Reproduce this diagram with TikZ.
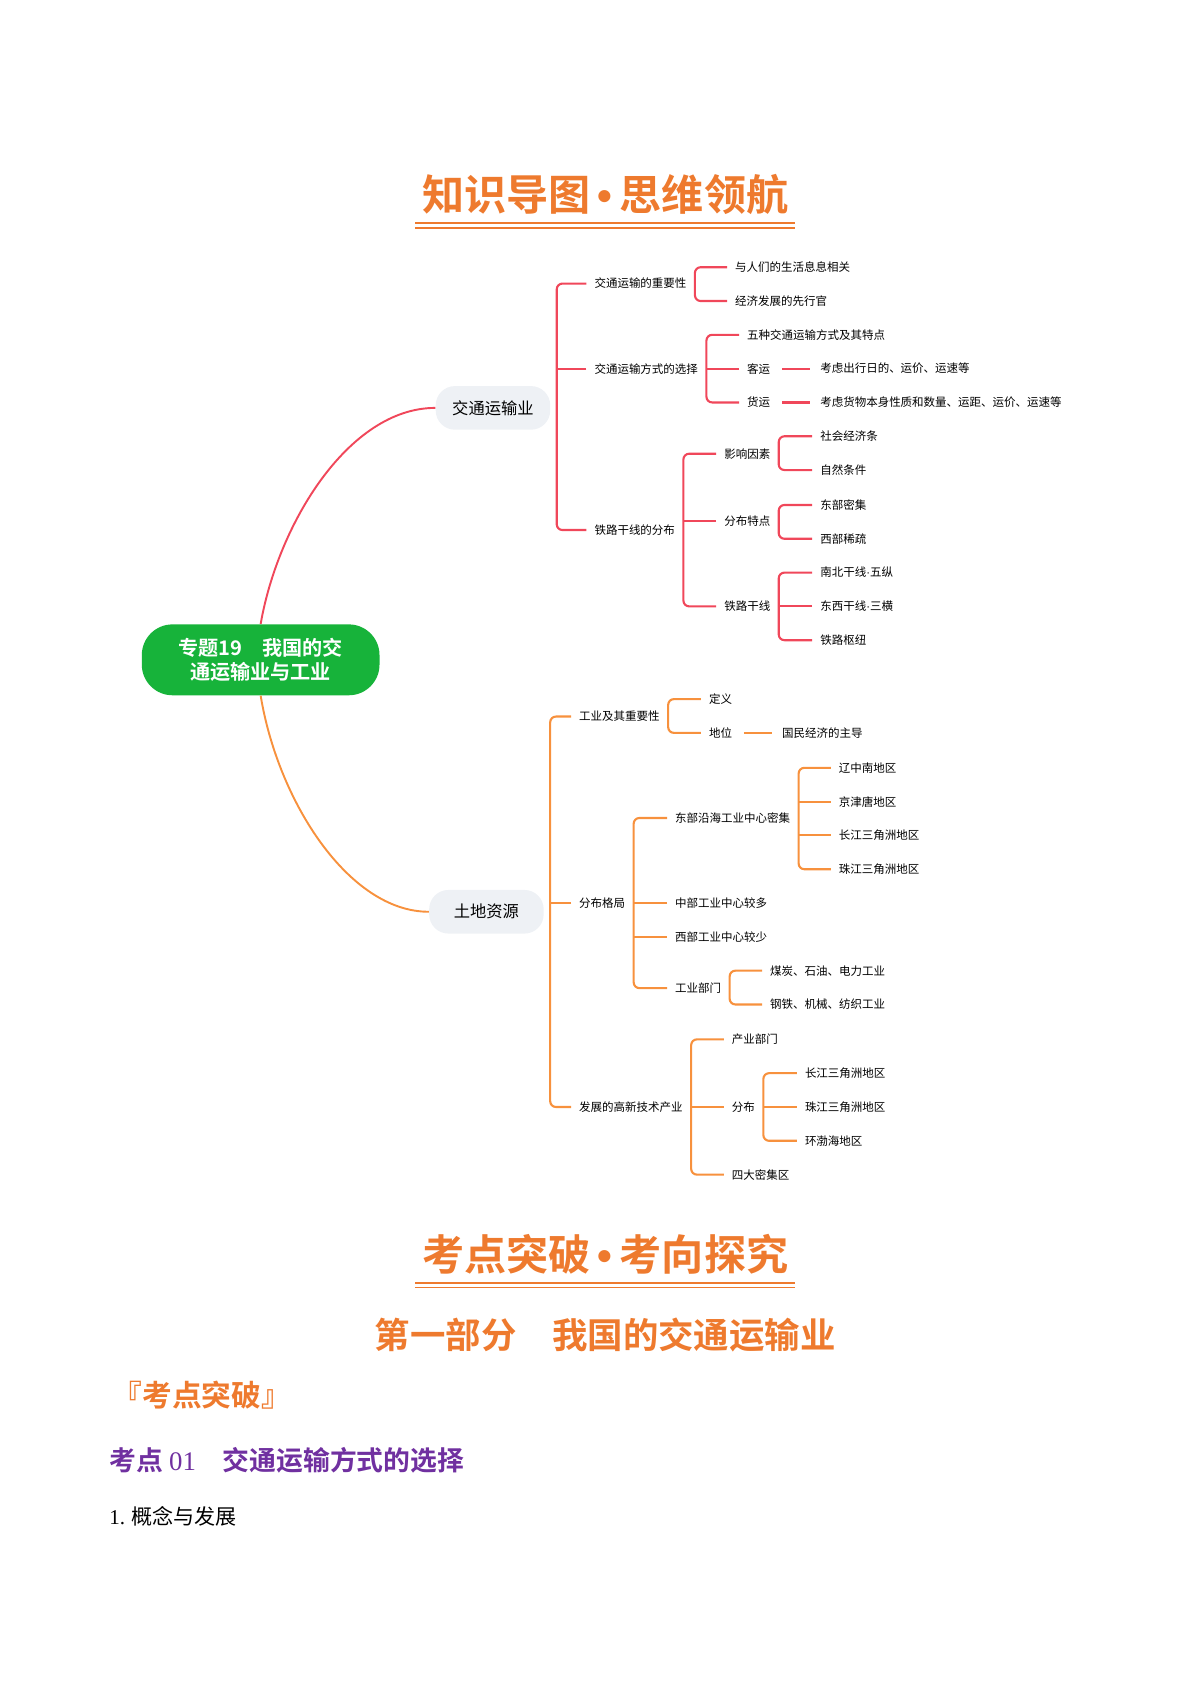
\documentclass[tikz,border=0pt]{standalone}
\usepackage{fontspec}
\setmainfont{Noto Sans CJK SC}[BoldFont={Noto Sans CJK SC Bold}]
\newfontfamily\latinsans{Liberation Sans}
\newfontfamily\latinserif{Liberation Serif}
\usetikzlibrary{positioning,calc}
\definecolor{lred}{HTML}{F0475A}
\definecolor{lorange}{HTML}{F7913D}
\definecolor{ttl}{HTML}{EE7A2E}
\definecolor{kpurple}{HTML}{7030A0}
\definecolor{rootgreen}{HTML}{17B33A}
\definecolor{branchgray}{HTML}{EEF1F5}
\tikzset{
  rl/.style={lred,line width=1.1pt},
  ol/.style={lorange,line width=1.1pt},
  leaf/.style={anchor=west,inner sep=1pt,font=\fontsize{6}{7}\selectfont},
  branch/.style={fill=branchgray,rounded corners=10pt,minimum width=2.1cm,minimum height=0.8cm,font=\fontsize{8.5}{10}\selectfont},
  title/.style={ttl,font=\fontsize{22}{26}\selectfont\bfseries}
}
\newcommand{\tdot}{{\latinsans\bfseries\,•\,}}
\newcommand{\ldot}{{\latinsans·}}
% parent -> bar -> first ... last
\newcommand{\fork}[4]{%
  \draw[#1] ([xshift=3pt]#2.east) -- ++(0.36,0) coordinate (#2-b);
  \draw[#1,rounded corners=3pt] ([xshift=-3pt]#3.west) -| (#2-b) |- ([xshift=-3pt]#4.west);}
\newcommand{\midlink}[3]{\draw[#1] ([xshift=-3pt]#3.west) -- (#3.west -| #2-b);}
\begin{document}
\begin{tikzpicture}[x=0.02cm,y=-0.02cm]
\useasboundingbox (0,0) rectangle (1100,1556);

% Title
\node[title] (t1) at (555,178) {知识导图\tdot 思维领航};
\draw[ttl,line width=0.8pt] ([yshift=-1pt]t1.south west) -- ([yshift=-1pt]t1.south east);
\draw[ttl,line width=0.8pt] ([yshift=-3.5pt]t1.south west) -- ([yshift=-3.5pt]t1.south east);

% Root and branches
\node[fill=rootgreen,text=white,rounded corners=16pt,minimum width=4.36cm,minimum height=1.3cm,
  align=center,font=\fontsize{10.5}{12.5}\selectfont\bfseries] (root) at (239,605) {专题19\quad 我国的交\\通运输业与工业};
\node[branch] (jt) at (452,374) {交通运输业};
\node[branch] (td) at (446,836) {土地资源};
\draw[lred,line width=1pt] (root.north) .. controls (255,480) and (320,374) .. (jt.west);
\draw[lorange,line width=1pt] (root.south) .. controls (255,735) and (320,836) .. (td.west);

% Transport
\node[leaf] (a1) at (543,260) {交通运输的重要性};
\node[leaf] (a2) at (543,338) {交通运输方式的选择};
\node[leaf] (a3) at (543,486) {铁路干线的分布};
\fork{rl}{jt}{a1}{a3} \midlink{rl}{jt}{a2}

\node[leaf] (a11) at (672,245) {与人们的生活息息相关};
\node[leaf] (a12) at (672,276) {经济发展的先行官};
\fork{rl}{a1}{a11}{a12}

\node[leaf] (a21) at (683,307) {五种交通运输方式及其特点};
\node[leaf] (a22) at (683,338) {客运};
\node[leaf] (a23) at (683,369) {货运};
\fork{rl}{a2}{a21}{a23} \midlink{rl}{a2}{a22}
\node[leaf] (a221) at (750,338) {考虑出行日的、运价、运速等};
\node[leaf] (a231) at (750,369) {考虑货物本身性质和数量、运距、运价、运速等};
\draw[rl] ([xshift=5pt]a22.east) -- ([xshift=-4pt]a221.west);
\draw[rl] ([xshift=5pt]a23.east) -- ([xshift=-4pt]a231.west);

\node[leaf] (a31) at (662,416) {影响因素};
\node[leaf] (a32) at (662,478) {分布特点};
\node[leaf] (a33) at (662,556) {铁路干线};
\fork{rl}{a3}{a31}{a33} \midlink{rl}{a3}{a32}

\node[leaf] (a311) at (750,400) {社会经济条};
\node[leaf] (a312) at (750,431) {自然条件};
\fork{rl}{a31}{a311}{a312}
\node[leaf] (a321) at (750,463) {东部密集};
\node[leaf] (a322) at (750,494) {西部稀疏};
\fork{rl}{a32}{a321}{a322}
\node[leaf] (a331) at (750,525) {南北干线\ldot 五纵};
\node[leaf] (a332) at (750,556) {东西干线\ldot 三横};
\node[leaf] (a333) at (750,587) {铁路枢纽};
\fork{rl}{a33}{a331}{a333} \midlink{rl}{a33}{a332}

% Industry
\node[leaf] (b1) at (529,657) {工业及其重要性};
\node[leaf] (b2) at (529,828) {分布格局};
\node[leaf] (b3) at (529,1015) {发展的高新技术产业};
\fork{ol}{td}{b1}{b3} \midlink{ol}{td}{b2}

\node[leaf] (b11) at (648,641) {定义};
\node[leaf] (b12) at (648,672) {地位};
\fork{ol}{b1}{b11}{b12}
\node[leaf] (b121) at (715,672) {国民经济的主导};
\draw[ol] ([xshift=5pt]b12.east) -- ([xshift=-4pt]b121.west);

\node[leaf] (b21) at (617,750) {东部沿海工业中心密集};
\node[leaf] (b22) at (617,828) {中部工业中心较多};
\node[leaf] (b23) at (617,859) {西部工业中心较少};
\node[leaf] (b24) at (617,906) {工业部门};
\fork{ol}{b2}{b21}{b24} \midlink{ol}{b2}{b22} \midlink{ol}{b2}{b23}

\node[leaf] (b211) at (767,704) {辽中南地区};
\node[leaf] (b212) at (767,735) {京津唐地区};
\node[leaf] (b213) at (767,766) {长江三角洲地区};
\node[leaf] (b214) at (767,797) {珠江三角洲地区};
\fork{ol}{b21}{b211}{b214} \midlink{ol}{b21}{b212} \midlink{ol}{b21}{b213}

\node[leaf] (b241) at (704,890) {煤炭、石油、电力工业};
\node[leaf] (b242) at (704,921) {钢铁、机械、纺织工业};
\fork{ol}{b24}{b241}{b242}

\node[leaf] (b31) at (669,953) {产业部门};
\node[leaf] (b32) at (669,1015) {分布};
\node[leaf] (b33) at (669,1077) {四大密集区};
\fork{ol}{b3}{b31}{b33} \midlink{ol}{b3}{b32}
\node[leaf] (b321) at (736,984) {长江三角洲地区};
\node[leaf] (b322) at (736,1015) {珠江三角洲地区};
\node[leaf] (b323) at (736,1046) {环渤海地区};
\fork{ol}{b32}{b321}{b323} \midlink{ol}{b32}{b322}

% Lower headings
\node[title] (t2) at (555,1150) {考点突破\tdot 考向探究};
\draw[ttl,line width=0.8pt] ([yshift=-1pt]t2.south west) -- ([yshift=-1pt]t2.south east);
\draw[ttl,line width=0.8pt] ([yshift=-3.5pt]t2.south west) -- ([yshift=-3.5pt]t2.south east);
\node[ttl,font=\fontsize{18.5}{22}\selectfont\bfseries] (part) at (555,1224) {第一部分\quad 我国的交通运输业};
\node[ttl,anchor=west,inner sep=0pt,font=\fontsize{15.5}{18}\selectfont\bfseries] (kd) at (103,1279) {『考点突破』};
\node[kpurple,anchor=west,inner sep=0pt,font=\fontsize{14}{17}\selectfont\bfseries] (kp) at (100,1339) {考点 {\latinserif\mdseries 01}\quad 交通运输方式的选择};
\node[anchor=west,inner sep=0pt,font=\fontsize{11}{13}\selectfont] (gn) at (100,1390) {{\latinserif 1.} 概念与发展};
\end{tikzpicture}
\end{document}
